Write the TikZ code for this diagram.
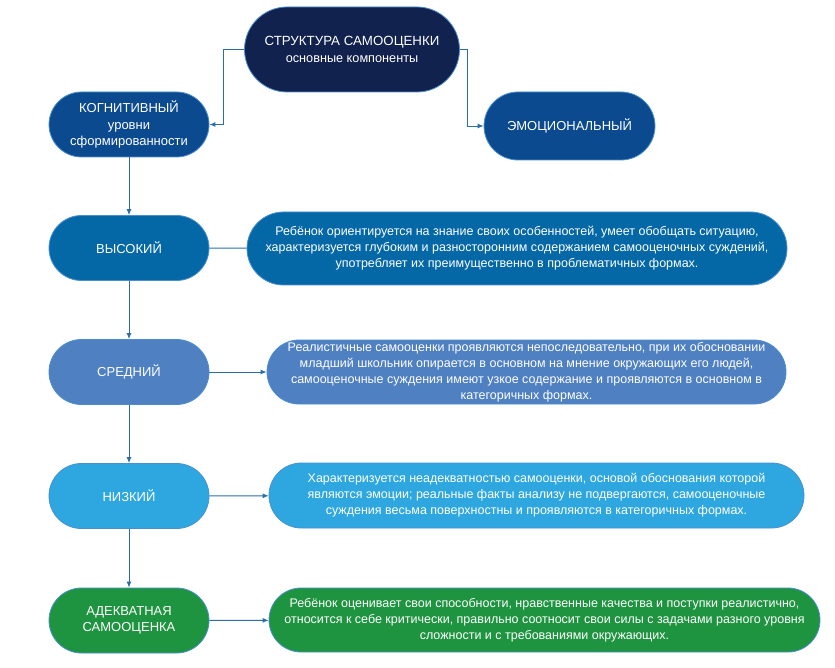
\documentclass[tikz,border=0pt]{standalone}
\usepackage{fontspec}
\setmainfont{Liberation Sans}
\usetikzlibrary{arrows.meta}
\definecolor{navy}{HTML}{12224F}
\definecolor{cogn}{HTML}{0B4A8E}
\definecolor{high}{HTML}{0468A6}
\definecolor{mid}{HTML}{4F80C2}
\definecolor{low}{HTML}{2EA7E0}
\definecolor{adeq}{HTML}{1E9440}
\definecolor{rim}{HTML}{4A8FD0}
\definecolor{wire}{HTML}{2B6DA6}
\tikzset{
	pill/.style = {draw = rim, line width = 0.8pt, text = white, align = center, inner sep = 1pt},
	comp/.style = {pill, minimum width = 160, minimum height = 65, rounded corners = 32.5, font = \fontsize{13}{16.5}\selectfont},
	descr/.style = {pill, minimum height = 64, rounded corners = 32, font = \fontsize{12.5}{16}\selectfont},
	link/.style = {draw = wire, line width = 0.9pt},
	arr/.style = {link, -{Latex[length=6pt, width=5pt]}}
}
\begin{document}
\begin{tikzpicture}[x = 1pt, y = -1pt]
		\useasboundingbox (0,0) rectangle (835,668);
		\node[pill, fill = navy, minimum width = 215, minimum height = 85, rounded corners = 42.5, font = \fontsize{13.3}{17}\selectfont] (struct) at (352,49.5) {СТРУКТУРА САМООЦЕНКИ\\{\fontsize{12.7}{15}\selectfont основные компоненты}};
		\node[comp, fill = cogn] (kogn) at (129,124.5) {КОГНИТИВНЫЙ\\уровни\\сформированности};
		\node[comp, fill = cogn, minimum width = 171, minimum height = 68, rounded corners = 34] (emo) at (569.5,126) {ЭМОЦИОНАЛЬНЫЙ};
		\node[comp, fill = high] (vys) at (129,248) {ВЫСОКИЙ};
		\node[comp, fill = mid] (sred) at (129,372) {СРЕДНИЙ};
		\node[comp, fill = low] (niz) at (129,496) {НИЗКИЙ};
		\node[comp, fill = adeq] (adek) at (129,620.5) {АДЕКВАТНАЯ\\САМООЦЕНКА};
		\node[descr, fill = high, minimum width = 540, minimum height = 73, rounded corners = 36.5] (dvys) at (517,248.5) {Ребёнок ориентируется на знание своих особенностей, умеет обобщать ситуацию,\\характеризуется глубоким и разносторонним содержанием самооценочных суждений,\\употребляет их преимущественно в проблематичных формах.};
		\node[descr, fill = mid, minimum width = 519] (dsred) at (526.5,372) {Реалистичные самооценки проявляются непоследовательно, при их обосновании\\младший школьник опирается в основном на мнение окружающих его людей,\\самооценочные суждения имеют узкое содержание и проявляются в основном в\\категоричных формах.};
		\node[descr, fill = low, minimum width = 535, minimum height = 65, rounded corners = 32.5] (dniz) at (536.5,495.5) {Характеризуется неадекватностью самооценки, основой обоснования которой\\являются эмоции; реальные факты анализу не подвергаются, самооценочные\\суждения весьма поверхностны и проявляются в категоричных формах.};
		\node[descr, fill = adeq, minimum width = 551] (dadek) at (544.5,620) {Ребёнок оценивает свои способности, нравственные качества и поступки реалистично,\\относится к себе критически, правильно соотносит свои силы с задачами разного уровня\\сложности и с требованиями окружающих.};
		\draw[arr] (struct.west) -- ++(-21,0) |- (kogn.east);
		\draw[arr] (struct.east) -- ++(8,0) |- (emo.west);
		\draw[arr] (kogn) -- (vys);
		\draw[arr] (vys) -- (sred);
		\draw[arr] (sred) -- (niz);
		\draw[arr] (niz) -- (adek);
		\draw[link] (vys) -- (dvys);
		\draw[arr] (sred) -- (dsred);
		\draw[arr] (niz) -- (dniz);
		\draw[arr] (adek) -- (dadek);
\end{tikzpicture}
\end{document}
